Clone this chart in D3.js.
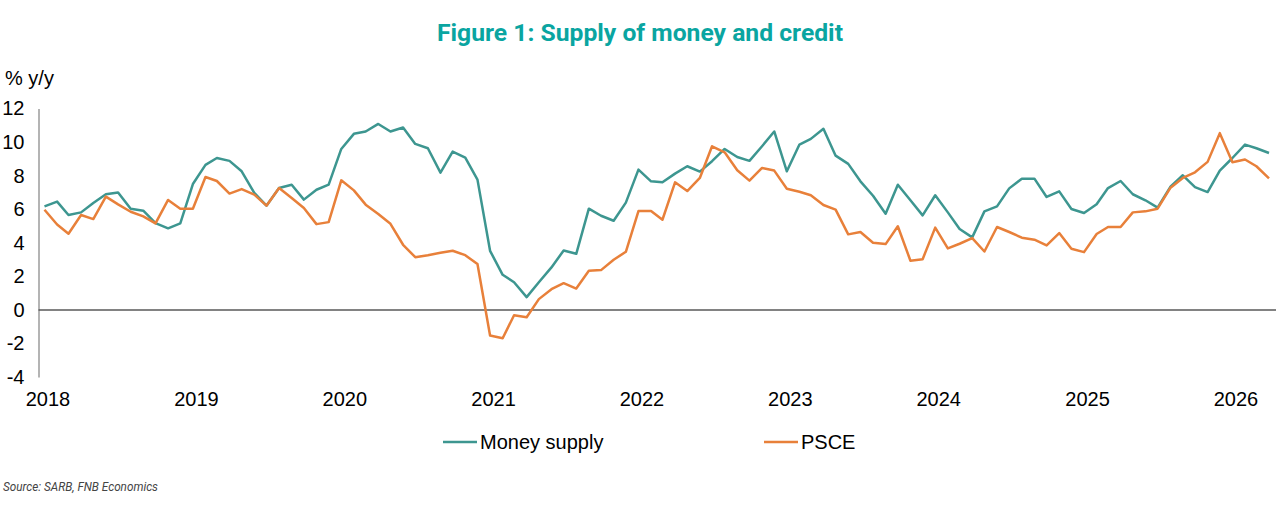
<!DOCTYPE html>
<html>
<head>
<meta charset="utf-8">
<script src="https://cdn.jsdelivr.net/npm/d3@7"></script>
<style>
  body { margin: 0; background: #fff; }
  svg text { font-family: "Liberation Sans", Arial, sans-serif; }
</style>
</head>
<body>
<div id="chart"></div>
<script>
// monthly, Jan 2018 - Apr 2026
var startMonth = new Date(2018, 0, 1);
var endMonth = new Date(2026, 3, 1);
var yearLabels = ["2018", "2019", "2020", "2021", "2022", "2023", "2024", "2025", "2026"];
var yTicks = [-4, -2, 0, 2, 4, 6, 8, 10, 12];

var moneySupply = [
    6.17, 6.45, 5.65, 5.81, 6.37, 6.89, 7.0, 6.03, 5.91, 5.17, 4.86, 5.15,
    7.5, 8.64, 9.05, 8.88, 8.26, 6.97, 6.21, 7.26, 7.46, 6.57, 7.16, 7.46,
    9.59, 10.49, 10.63, 11.08, 10.63, 10.87, 9.89, 9.63, 8.18, 9.43, 9.07, 7.76,
    3.52, 2.09, 1.65, 0.76, 1.65, 2.53, 3.54, 3.34, 6.03, 5.61, 5.31, 6.39,
    8.36, 7.66, 7.6, 8.12, 8.56, 8.24, 8.86, 9.59, 9.11, 8.88, 9.75, 10.63,
    8.26, 9.85, 10.19, 10.79, 9.19, 8.70, 7.66, 6.8, 5.73, 7.46, 6.53, 5.63,
    6.83, 5.81, 4.82, 4.32, 5.87, 6.17, 7.24, 7.82, 7.82, 6.73, 7.06, 6.01,
    5.77, 6.29, 7.26, 7.68, 6.89, 6.53, 6.09, 7.32, 8.02, 7.32, 7.02, 8.30,
    9.05, 9.85, 9.63, 9.35
];
var psce = [
    5.97, 5.09, 4.54, 5.65, 5.41, 6.75, 6.29, 5.85, 5.57, 5.15, 6.55, 6.03,
    6.03, 7.92, 7.68, 6.93, 7.2, 6.87, 6.21, 7.26, 6.67, 6.07, 5.11, 5.23,
    7.72, 7.12, 6.27, 5.71, 5.13, 3.88, 3.14, 3.26, 3.40, 3.52, 3.26, 2.73,
    -1.53, -1.69, -0.32, -0.44, 0.64, 1.23, 1.59, 1.27, 2.33, 2.37, 2.99, 3.46,
    5.89, 5.89, 5.37, 7.6, 7.08, 7.86, 9.75, 9.39, 8.32, 7.70, 8.46, 8.30,
    7.22, 7.04, 6.83, 6.25, 5.97, 4.50, 4.64, 4.0, 3.92, 4.98, 2.93, 3.02,
    4.90, 3.66, 3.94, 4.28, 3.48, 4.94, 4.64, 4.30, 4.18, 3.84, 4.58, 3.64,
    3.44, 4.52, 4.94, 4.94, 5.81, 5.87, 6.03, 7.26, 7.86, 8.2, 8.82, 10.53,
    8.80, 8.96, 8.56, 7.84
];

var seriesNames = ["Money supply", "PSCE"];
var colors = ["#3d9690", "#e8803a"];

var width = 1280, height = 520;
var months = d3.timeMonth.range(startMonth, d3.timeMonth.offset(endMonth, 1));

var svg = d3.select("#chart").append("svg")
    .attr("width", width)
    .attr("height", height);

var x = d3.scaleTime()
    .domain([startMonth, endMonth])
    .range([44.5, 1269]);

var y = d3.scaleLinear()
    .domain([-4, 12])
    .range([377, 108.5]);

// title
svg.append("text")
    .attr("x", 640)
    .attr("y", 41)
    .attr("text-anchor", "middle")
    .attr("textLength", 406)
    .attr("lengthAdjust", "spacingAndGlyphs")
    .style("font-family", "Roboto, sans-serif")
    .style("font-weight", "bold")
    .style("font-size", "24px")
    .attr("fill", "#0aa5a1")
    .text("Figure 1: Supply of money and credit");

svg.append("text")
    .attr("x", 5)
    .attr("y", 85)
    .style("font-size", "20px")
    .attr("fill", "#000")
    .text("% y/y");

// y axis
var yAxis = svg.append("g")
    .attr("transform", "translate(38.5,0)")
    .call(d3.axisLeft(y).tickValues(yTicks).tickSize(0).tickPadding(14).tickFormat(function(d){ return String(d); }));
yAxis.select(".domain").attr("stroke", "#8c8c8c").attr("stroke-width", 1.3);
yAxis.selectAll("text").style("font-size", "20px").attr("fill", "#000")
    .style("font-family", "'Liberation Sans', Arial, sans-serif");

// x axis labels (no line; the zero line acts as axis)
var yearDates = yearLabels.map(function(d){ return new Date(+d, 0, 1); });
var xAxis = svg.append("g")
    .attr("transform", "translate(3," + y(-4) + ")")
    .call(d3.axisBottom(x).tickValues(yearDates).tickSize(0).tickPadding(15).tickFormat(d3.timeFormat("%Y")));
xAxis.select(".domain").remove();
xAxis.selectAll("text").style("font-size", "20px").attr("fill", "#000")
    .style("font-family", "'Liberation Sans', Arial, sans-serif");

// zero line
svg.append("line")
    .attr("x1", 38.5)
    .attr("x2", 1276)
    .attr("y1", y(0))
    .attr("y2", y(0))
    .attr("stroke", "#595959")
    .attr("stroke-width", 1.5);

var line = d3.line()
    .x(function(d, i){ return x(months[i]); })
    .y(function(d){ return y(d); });

[moneySupply, psce].forEach(function(s, k){
    svg.append("path")
        .datum(s)
        .attr("fill", "none")
        .attr("stroke", colors[k])
        .attr("stroke-width", 2.5)
        .attr("stroke-linejoin", "round")
        .attr("d", line);
});

// legend
var legendX = [443, 764];
seriesNames.forEach(function(name, k){
    var g = svg.append("g").attr("transform", "translate(" + legendX[k] + ",442)");
    g.append("line")
        .attr("x1", 0).attr("x2", 34)
        .attr("y1", 0).attr("y2", 0)
        .attr("stroke", colors[k])
        .attr("stroke-width", 2.5);
    g.append("text")
        .attr("x", 37)
        .attr("y", 7)
        .style("font-size", "20px")
        .attr("fill", "#000")
        .text(name);
});

// source
svg.append("text")
    .attr("x", 3)
    .attr("y", 491)
    .attr("textLength", 155)
    .attr("lengthAdjust", "spacingAndGlyphs")
    .style("font-family", "Roboto, sans-serif")
    .style("font-style", "italic")
    .style("font-size", "12.5px")
    .attr("fill", "#444")
    .text("Source: SARB, FNB Economics");
</script>
</body>
</html>
